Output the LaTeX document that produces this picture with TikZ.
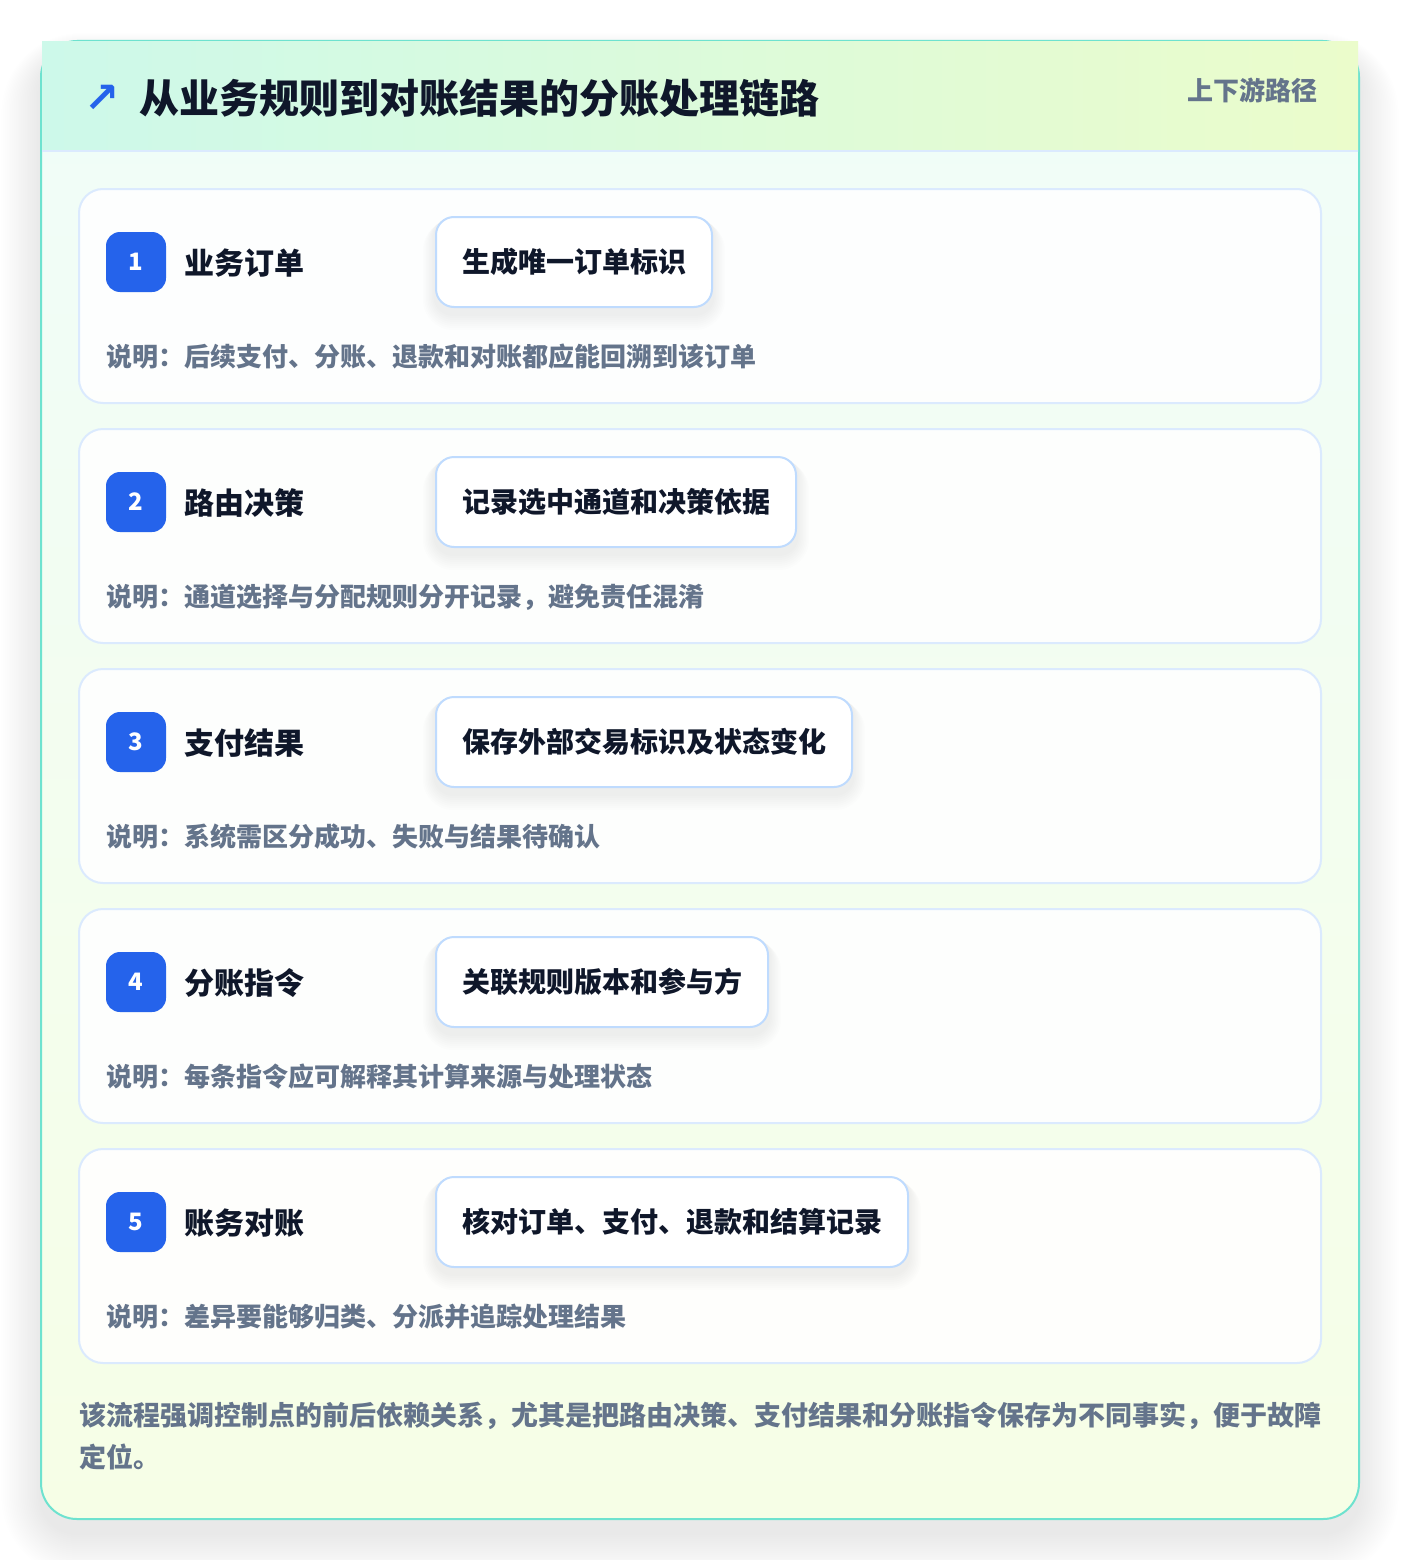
\documentclass[tikz,border=0pt]{standalone}
\usepackage{fontspec}
\setmainfont{Noto Sans CJK SC}
\newfontfamily\symf{DejaVu Sans}
\pgfdeclarelayer{lzero}
\pgfdeclarelayer{lone}
\pgfsetlayers{lzero,lone,main}
\definecolor{framec}{HTML}{6EE2CF}
\definecolor{hdl}{HTML}{CDF9EA}
\definecolor{hdr}{HTML}{EBFCCB}
\definecolor{bodytop}{HTML}{F0FDF9}
\definecolor{bodybot}{HTML}{F6FEE6}
\definecolor{lineblue}{HTML}{DBEAFE}
\definecolor{boxblue}{HTML}{BFDBFE}
\definecolor{badgec}{HTML}{2563EB}
\definecolor{inkc}{HTML}{0F172A}
\definecolor{slatec}{HTML}{64748B}
\definecolor{shadc}{HTML}{334155}
\tikzset{
  cardst/.style={draw=lineblue, line width=2pt, fill=white, fill opacity=0.9, rounded corners=24pt},
  badge/.style={fill=badgec, text=white, rounded corners=14pt, minimum size=60pt, inner sep=0pt, font=\bfseries\fontsize{24}{28}\selectfont},
  labst/.style={anchor=west, inner sep=0pt, text=inkc, font=\bfseries\fontsize{30}{36}\selectfont},
  boxst/.style={anchor=west, draw=boxblue, line width=2pt, fill=white, rounded corners=18pt, inner xsep=26pt, inner ysep=0pt, minimum height=90pt, text=inkc, font=\bfseries\fontsize{28}{34}\selectfont},
  descst/.style={anchor=west, inner sep=0pt, text=slatec, font=\bfseries\fontsize{26}{32}\selectfont},
  footst/.style={anchor=base west, inner sep=0pt, text=slatec, font=\bfseries\fontsize{27}{34}\selectfont},
}
\begin{document}
\begin{tikzpicture}[x=1pt,y=-1pt]
\begin{pgfonlayer}{lzero}
\useasboundingbox (0,0) rectangle (1400,1560);
\fill[white] (0,0) rectangle (1400,1560);
% outer shadow
\foreach \i [evaluate=\i as \r using 36+2*\i] in {1,...,22}
  \fill[shadc, opacity=0.0035, rounded corners=\r pt] (41-1.8*\i,41-1*\i+14) rectangle (1359+1.8*\i,1519+2*\i+14);
% body
\shade[top color=bodytop, bottom color=bodybot, rounded corners=36pt] (41,41) rectangle (1359,1519);
\draw[framec, line width=2pt, rounded corners=36pt] (41,41) rectangle (1359,1519);
% header
\shade[left color=hdl, right color=hdr] (42,42) rectangle (1358,151);
\draw[lineblue, line width=2pt] (42,151) -- (1358,151);
\end{pgfonlayer}
\node[text=badgec, inner sep=0pt, font=\symf\bfseries\fontsize{42}{46}\selectfont] (arr) at (102,99) {↗};
\node[anchor=west, inner sep=0pt, text=inkc, font=\bfseries\fontsize{40}{48}\selectfont] (title) at (139,98) {从业务规则到对账结果的分账处理链路};
\node[anchor=east, inner sep=0pt, text=slatec, font=\bfseries\fontsize{26}{30}\selectfont] (tag) at (1318,90) {上下游路径};
\foreach \n/\lab/\bx/\desc [count=\k] in {
  1/{业务订单}/{生成唯一订单标识}/{后续支付、分账、退款和对账都应能回溯到该订单},
  2/{路由决策}/{记录选中通道和决策依据}/{通道选择与分配规则分开记录，避免责任混淆},
  3/{支付结果}/{保存外部交易标识及状态变化}/{系统需区分成功、失败与结果待确认},
  4/{分账指令}/{关联规则版本和参与方}/{每条指令应可解释其计算来源与处理状态},
  5/{账务对账}/{核对订单、支付、退款和结算记录}/{差异要能够归类、分派并追踪处理结果}} {
  \pgfmathsetmacro\ty{189+240*(\k-1)}
  \begin{pgfonlayer}{lzero}
    \draw[cardst] (79,\ty) rectangle (1321,\ty+214);
  \end{pgfonlayer}
  \node[badge] (b\k) at (136,\ty+73) {\n};
  \node[labst] (l\k) at (184,\ty+74) {\lab};
  \node[boxst] (x\k) at (435,\ty+73) {\bx};
  \begin{pgfonlayer}{lone}
    \foreach \j [evaluate=\j as \rr using 18+1.5*\j] in {1,...,8}
      \fill[shadc, opacity=0.008, rounded corners=\rr pt] ([xshift=-1.5*\j pt, yshift=-0.5*\j pt]x\k.north west) rectangle ([xshift=1.5*\j pt, yshift=-6pt-2*\j pt]x\k.south east);
  \end{pgfonlayer}
  \node[descst] (d\k) at (106,\ty+168) {说明：\desc};
}
\node[footst] (f1) at (79,1425) {该流程强调控制点的前后依赖关系，尤其是把路由决策、支付结果和分账指令保存为不同事实，便于故障};
\node[footst] (f2) at (79,1467) {定位。};
\end{tikzpicture}
\end{document}
